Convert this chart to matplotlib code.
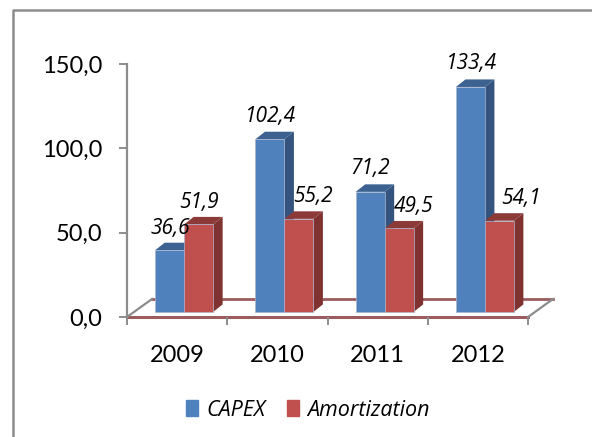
import matplotlib
matplotlib.use("Agg")
import matplotlib.pyplot as plt
from matplotlib.lines import Line2D
from matplotlib.patches import Patch

years = ['2009', '2010', '2011', '2012']
capex = [36.6, 102.4, 71.2, 133.4]
amort = [51.9, 55.2, 49.5, 54.1]
capex_labels = ['36,6', '102,4', '71,2', '133,4']
amort_labels = ['51,9', '55,2', '49,5', '54,1']
y_ticks = [0, 50, 100, 150]
y_tick_labels = ['0,0', '50,0', '100,0', '150,0']

# fake 3d settings, in data units
w = 0.289
shift = 0.07
base = 3.0
dx = 0.095
dy = 4.45
floor_dx = 0.25
floor_dy = 10.7

gray = '#8c8c8c'
maroon = '#9a5c5c'

fig = plt.figure(figsize=(5.92, 4.37), dpi=100)
# outer frame, only left and top show up in the picture
fx = 13 / 592
fy = 1 - 10 / 437
fig.add_artist(Line2D([fx, fx, 1], [0, fy, fy], transform=fig.transFigure, color=gray, lw=1.8))

ax = fig.add_axes([127 / 592, 1 - 317 / 437, 401 / 592, 253 / 437])
ax.patch.set_visible(False)
ax.set_xlim(-0.5, 3.5)
ax.set_ylim(0, 150)


def bar3d(x, v, front, side, top, z):
    t = base + v
    r = x + w
    ax.fill([r, r + dx, r + dx, r], [base, base + dy, t + dy, t], color=side, lw=0, zorder=z, clip_on=False)
    ax.fill([x, x + dx, r + dx, r], [t, t + dy, t + dy, t], color=top, lw=0, zorder=z, clip_on=False)
    ax.bar(x, v, w, bottom=base, align='edge', color=front, edgecolor='#a9b4cf', linewidth=0.5,
           zorder=z + 0.5, clip_on=False)


# floor
ax.fill([-0.5, 3.5, 3.5 + floor_dx, -0.5 + floor_dx], [0, 0, floor_dy, floor_dy], color='white', zorder=1, clip_on=False)
ax.plot([-0.5 + floor_dx, 3.5 + floor_dx], [floor_dy, floor_dy], color=maroon, lw=2, zorder=1.2, clip_on=False)
ax.plot([-0.5, 3.5], [0, 0], color=maroon, lw=2.2, zorder=1.2, clip_on=False)
ax.plot([-0.5, -0.5 + floor_dx], [0, floor_dy], color=gray, lw=1.6, zorder=1.3, clip_on=False)
ax.plot([3.5, 3.5 + floor_dx], [0, floor_dy], color=gray, lw=1.6, zorder=1.3, clip_on=False)

for i in range(len(years)):
    bar3d(i + shift - w, capex[i], '#4f81bd', '#34537e', '#3c6292', 2 + i * 2)
    bar3d(i + shift, amort[i], '#c0504d', '#7f3230', '#8b3a38', 3 + i * 2)

capex_off = [(1, 22), (1, 23), (0, 23), (1, 23)]
amort_off = [(0, 22), (14, 22), (15, 22), (22, 22)]
for i in range(len(years)):
    ax.annotate(capex_labels[i], (i + shift - w / 2, base + capex[i]), xytext=capex_off[i], textcoords='offset pixels',
                ha='center', va='center', family='Open Sans', style='italic', fontsize=15, color='black',
                zorder=20, annotation_clip=False)
    ax.annotate(amort_labels[i], (i + shift + w / 2, base + amort[i]), xytext=amort_off[i], textcoords='offset pixels',
                ha='center', va='center', family='Open Sans', style='italic', fontsize=15, color='black',
                zorder=20, annotation_clip=False)

for s in ['top', 'right', 'bottom']:
    ax.spines[s].set_visible(False)
ax.spines['left'].set_color(gray)
ax.spines['left'].set_linewidth(1.6)
ax.spines['left'].set_zorder(1.5)

ax.set_yticks(y_ticks)
ax.set_yticklabels(y_tick_labels, family='Lato', fontsize=17)
ax.tick_params(axis='y', length=6, width=1.4, color=gray, pad=12)
ax.set_xticks(range(len(years)))
ax.set_xticklabels(years, family='Lato', fontsize=17)
ax.tick_params(axis='x', which='major', length=0, pad=20)
ax.set_xticks([-0.5, 0.5, 1.5, 2.5, 3.5], minor=True)
ax.tick_params(axis='x', which='minor', length=6, width=1.4, color=gray)

handles = [Patch(color='#4f81bd', label='CAPEX'), Patch(color='#c0504d', label='Amortization')]
fig.legend(handles=handles, loc='center', bbox_to_anchor=(308 / 592, 1 - 410 / 437), ncol=2, frameon=False,
           prop={'family': 'Open Sans', 'style': 'italic', 'size': 15.5}, handlelength=0.55, handleheight=0.7,
           handletextpad=0.4, columnspacing=1.0)

fig.savefig('out.png', dpi=100)
